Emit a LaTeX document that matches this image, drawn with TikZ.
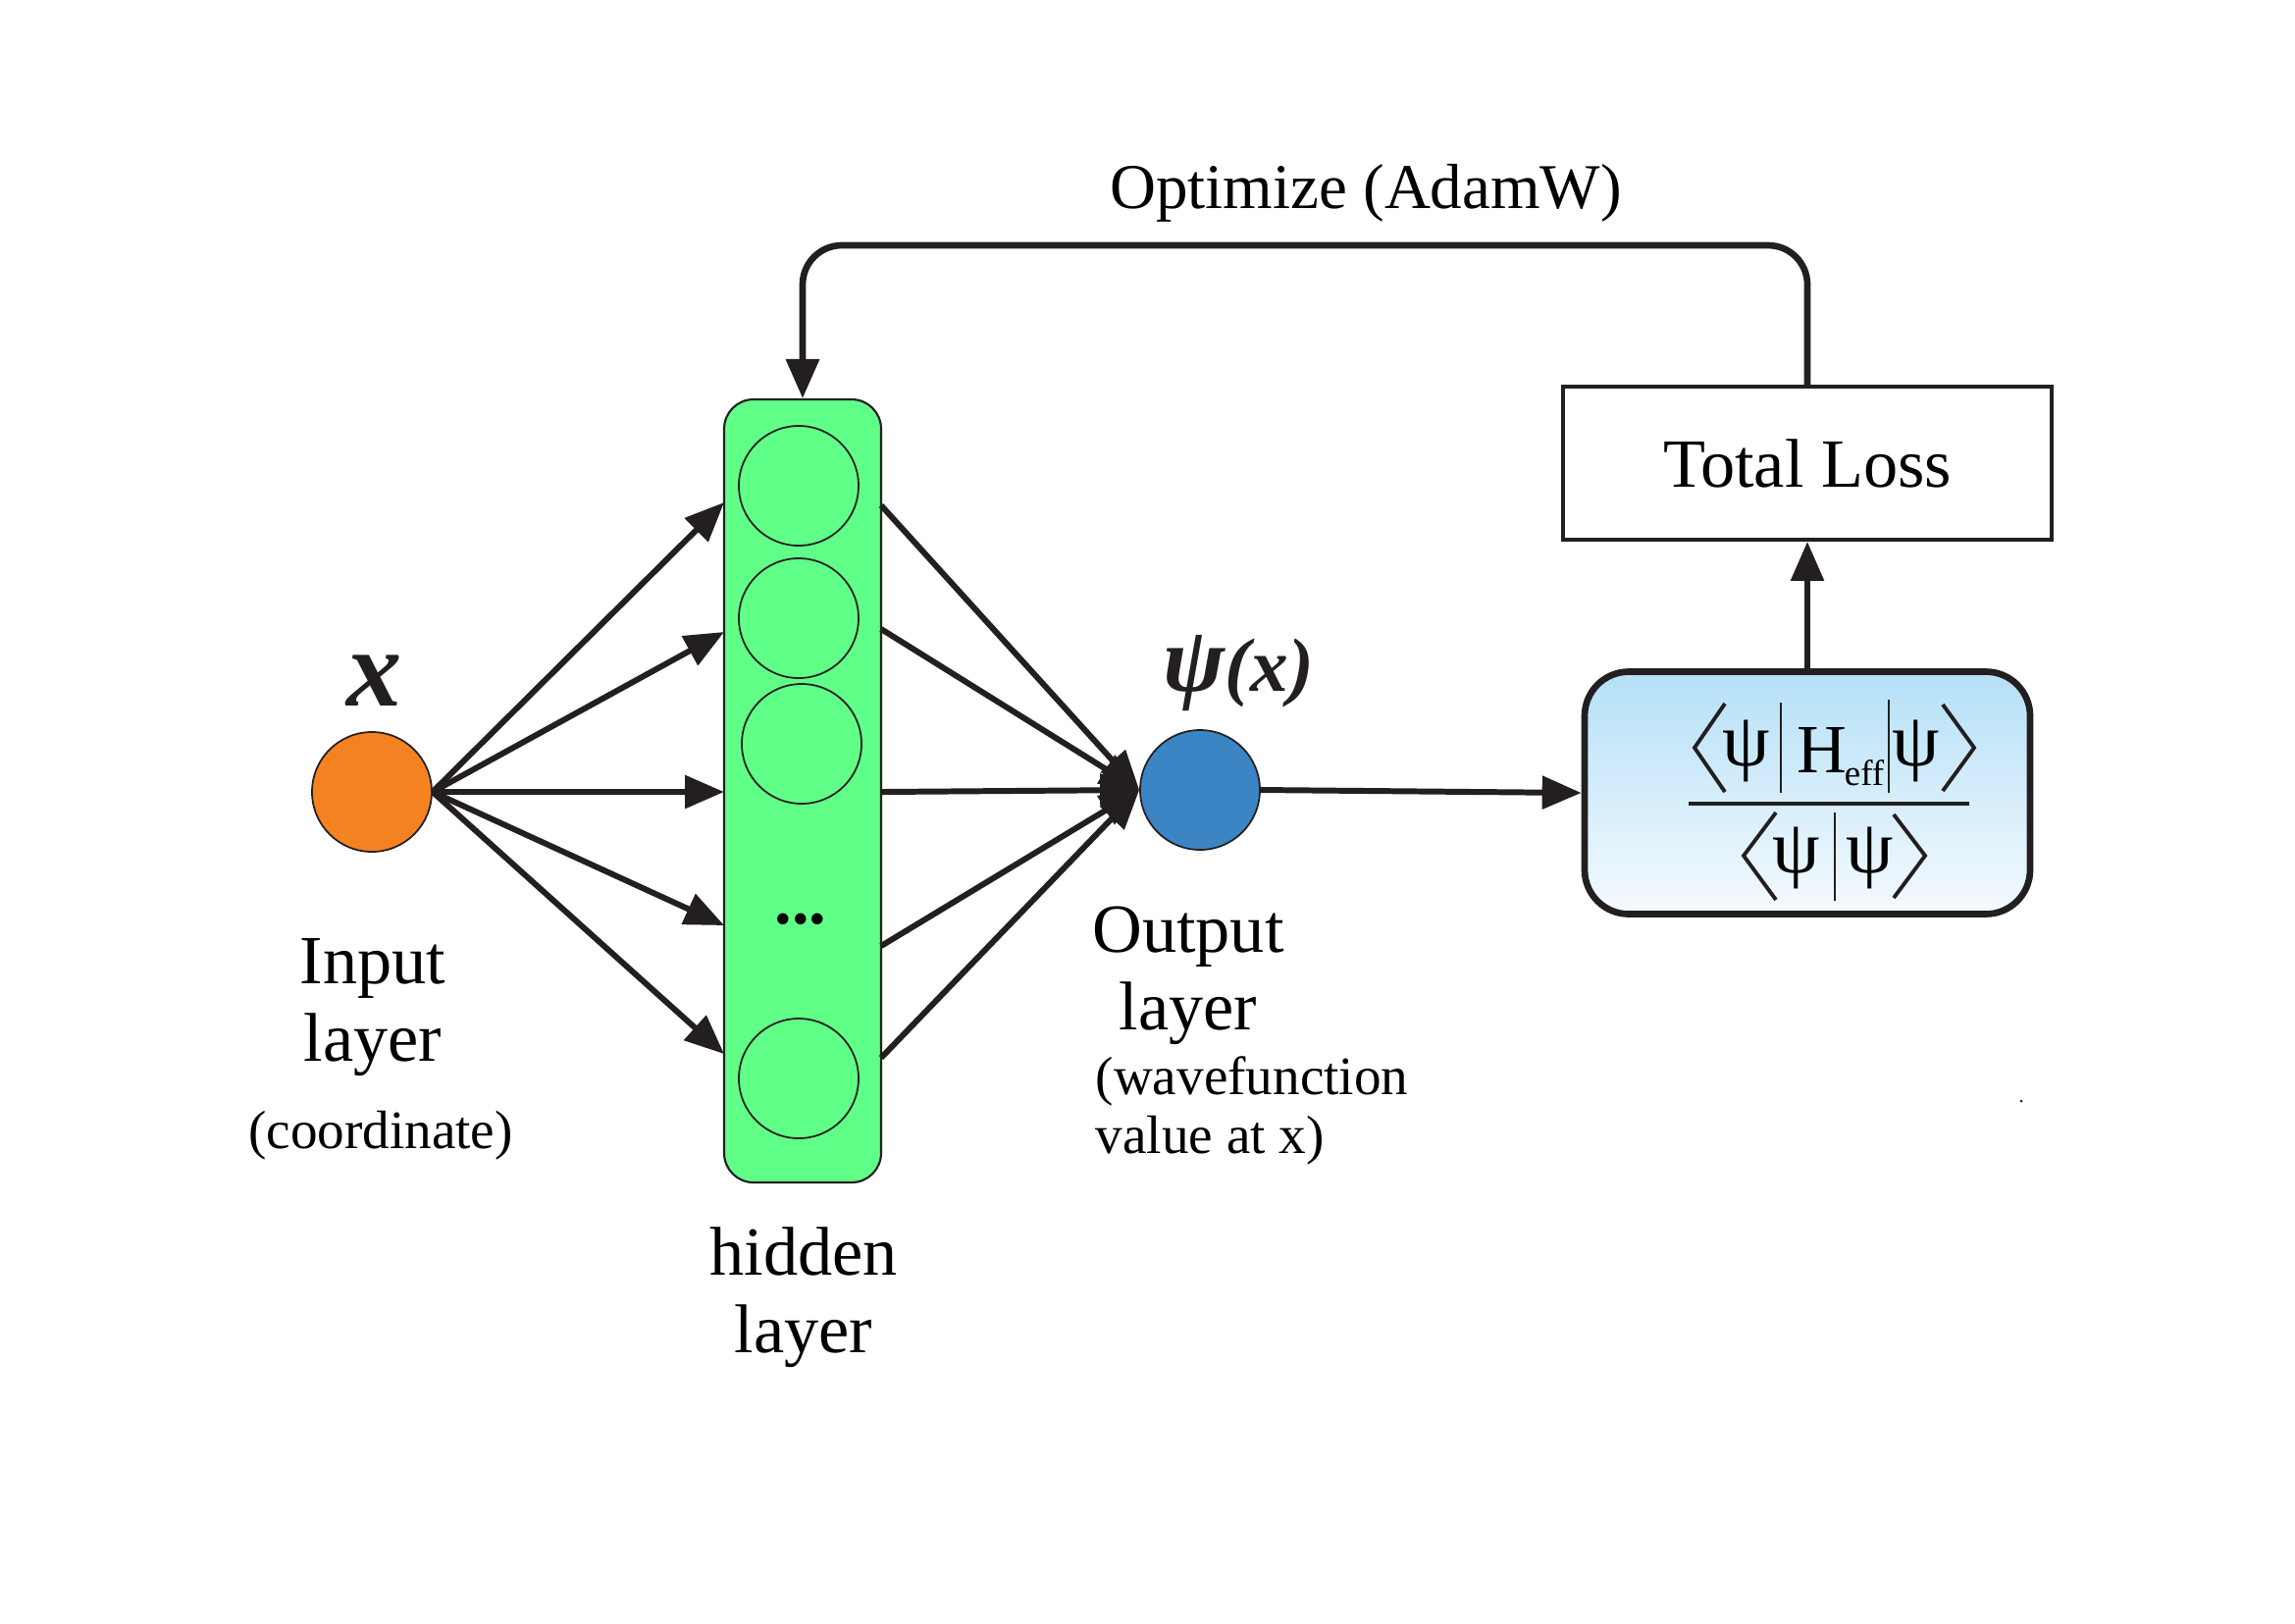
\documentclass[tikz,border=0pt]{standalone}
\usepackage{fontspec}
\setmainfont{Liberation Serif}
\usetikzlibrary{arrows.meta}
\definecolor{inorange}{HTML}{F58220}
\definecolor{outblue}{HTML}{3B85C5}
\definecolor{hidgreen}{HTML}{60FF88}
\definecolor{fboxtop}{HTML}{B5E0F7}
\definecolor{fboxbot}{HTML}{F4FAFE}
\definecolor{ink}{HTML}{231F20}
\begin{document}
\begin{tikzpicture}[x=0.1mm,y=-0.1mm,
  neuron/.style={circle,draw=ink,line width=0.5pt,minimum size=12.2mm,inner sep=0pt},
  conn/.style={line width=1.7pt,draw=ink,-{Triangle[length=4mm,width=3.3mm]}},
  lbl/.style={font=\fontsize{20}{22.5}\selectfont,align=center,inner sep=0pt},
  smalllbl/.style={font=\fontsize{15.7}{17.3}\selectfont,align=left,inner sep=0pt},
  fglyph/.style={font=\fontsize{22}{22}\selectfont,inner sep=0pt},
  bra/.style={line width=1.1pt,draw=ink},
  bar/.style={line width=0.8pt,draw=ink}
  ]
\useasboundingbox (0,0) rectangle (2339,1654);

% input
\node[neuron,fill=inorange] (in) at (379,807) {};
\node[font=\fontsize{32}{32}\selectfont\bfseries\itshape,text=ink,inner sep=0pt] (xl) at (382,694) {x};
\node[lbl] (inl) at (380,1027) {Input\\layer};
\node[font=\fontsize{15.7}{17}\selectfont,inner sep=0pt] (coordl) at (388,1157) {(coordinate)};

% hidden
\node[draw=ink,line width=0.6pt,fill=hidgreen,rounded corners=3mm,minimum width=16mm,minimum height=79.8mm,inner sep=0pt] (hid) at (818,806) {};
\node[neuron,fill=hidgreen] (h1) at (814,495) {};
\node[neuron,fill=hidgreen] (h2) at (814,630) {};
\node[neuron,fill=hidgreen] (h3) at (817,758) {};
\node[neuron,fill=hidgreen] (h5) at (814,1099) {};
\node[font=\fontsize{20}{20}\selectfont\bfseries,inner sep=0pt] (dots) at (816,937) {...};
\node[lbl] (hidl) at (819,1322) {hidden\\layer};

% output
\node[neuron,fill=outblue] (out) at (1223,805) {};
\node[font=\fontsize{22}{22}\selectfont\bfseries\itshape,text=ink,inner sep=0pt] (psil) at (1262,686) {{\fontsize{27}{27}\selectfont ψ}(x)};
\node[lbl] (outl) at (1211,994) {Output\\layer};
\node[smalllbl,anchor=west] (wfl) at (1116,1132) {(wavefunction\\value at x)};

% connectors input -> hidden
\coordinate (a1) at (738,512);
\coordinate (a2) at (738,644);
\coordinate (a3) at (738,807);
\coordinate (a4) at (738,943);
\coordinate (a5) at (738,1074);
\foreach \i in {1,...,5} \draw[conn] (in.east) -- (a\i);

% connectors hidden -> output
\coordinate (b1) at (898,515);
\coordinate (b2) at (898,641);
\coordinate (b3) at (898,807);
\coordinate (b4) at (898,964);
\coordinate (b5) at (898,1078);
\foreach \i in {1,...,5} \draw[conn] (b\i) -- (out.west);

% formula box
\node[draw=ink,line width=1.9pt,rounded corners=4.5mm,top color=fboxtop,bottom color=fboxbot,minimum width=45.4mm,minimum height=24.7mm,inner sep=0pt] (fbox) at (1842,808) {};
% numerator
\draw[bra] (1758,717) -- (1727,762) -- (1758,807);
\node[fglyph] (np1) at (1780,765) {ψ};
\draw[bar] (1815,716) -- (1815,808);
\node[font=\fontsize{20}{20}\selectfont,inner sep=0pt] (nh) at (1857,764) {H};
\node[font=\fontsize{10.5}{10.5}\selectfont,inner sep=0pt] (neff) at (1900,788) {eff};
\draw[bar] (1925,713) -- (1925,808);
\node[fglyph] (np2) at (1953,765) {ψ};
\draw[bra] (1980,718) -- (2012,762) -- (1980,806);
% fraction line
\draw[line width=1.2pt,draw=ink] (1721,819) -- (2007,819);
% denominator
\draw[bra] (1810,828) -- (1777,872) -- (1810,917);
\node[fglyph] (dp1) at (1831,874) {ψ};
\draw[bar] (1870,828) -- (1870,918);
\node[fglyph] (dp2) at (1906,874) {ψ};
\draw[bra] (1930,830) -- (1962,872) -- (1930,915);

% total loss
\node[draw=ink,line width=1.1pt,minimum width=49.8mm,minimum height=15.6mm,inner sep=0pt,font=\fontsize{20}{20}\selectfont] (tl) at (1842,472) {Total Loss};

\draw[conn] (out.east) -- (fbox.west);
\draw[conn] (fbox.north) -- (tl.south);
\coordinate (loop) at (1300,250);
\draw[conn,line width=1.9pt,rounded corners=4mm] (tl.north) |- (loop) -| (hid.north);
\node[font=\fontsize{18.5}{18.5}\selectfont,inner sep=0pt] (opt) at (1392,197) {Optimize (AdamW)};

% stray dot
\fill[ink] (2060,1122) circle (1.5);
\end{tikzpicture}
\end{document}
